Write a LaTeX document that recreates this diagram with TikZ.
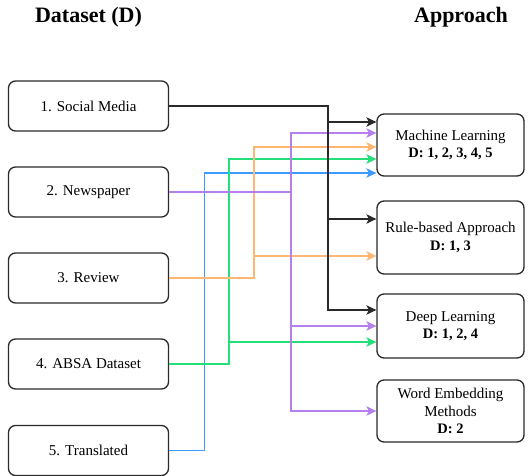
\documentclass[tikz,border=0pt]{standalone}
\usepackage{fontspec}
\setmainfont{Liberation Serif}
\usetikzlibrary{arrows.meta,calc}
\definecolor{cblk}{HTML}{2A2A2A}
\definecolor{cpur}{HTML}{B580EC}
\definecolor{cora}{HTML}{FFB672}
\definecolor{cgrn}{HTML}{22DF7A}
\definecolor{cblu}{HTML}{3D9BFF}
\tikzset{
  srcbox/.style={draw=cblk, line width=1.3pt, rounded corners=7pt, minimum width=160pt, minimum height=50pt, align=center, font=\fontsize{15}{17.6}\selectfont},
  appbox/.style={draw=cblk, line width=1.3pt, rounded corners=7pt, minimum width=147pt, align=center, font=\fontsize{15}{17.6}\selectfont, inner sep=0pt},
  ttl/.style={font=\bfseries\fontsize{22}{25}\selectfont},
  conn/.style={line width=1.3pt, -{Stealth[length=10pt,width=9.5pt,inset=2.5pt]}},
  ka/.style={conn, draw=cblk},
  pa/.style={conn, draw=cpur},
  oa/.style={conn, draw=cora},
  ga/.style={conn, draw=cgrn},
  ba/.style={conn, draw=cblu},
}
\newcommand{\bl}[1]{{\bfseries\fontsize{14.5}{17.6}\selectfont #1}}
\begin{document}
\begin{tikzpicture}[x=1pt,y=-1pt]
\useasboundingbox (0,0) rectangle (531,476);
\node[ttl] (t1) at (88.5,17.5) {Dataset (D)};
\node[ttl] (t2) at (461,17.5) {Approach};

\node[srcbox] (s1) at (88.5,106) {1. Social Media};
\node[srcbox] (s2) at (88.5,192) {2. Newspaper};
\node[srcbox] (s3) at (88.5,278) {3. Review};
\node[srcbox] (s4) at (88.5,364) {4. ABSA Dataset};
\node[srcbox] (s5) at (88.5,450.5) {5. Translated};

\node[appbox, minimum height=62pt] (ml) at (450.5,145) {Machine Learning\\\bl{D: 1, 2, 3, 4, 5}};
\node[appbox, minimum height=73pt] (rb) at (450.5,237.5) {Rule-based Approach\\\bl{D: 1, 3}};
\node[appbox, minimum height=64pt] (dl) at (450.5,326) {Deep Learning\\\bl{D: 1, 2, 4}};
\node[appbox, minimum height=62pt] (we) at (450.5,411) {Word Embedding\\Methods\\\bl{D: 2}};

% trunk x positions
\coordinate (tk) at (328,0);
\coordinate (tp) at (291,0);
\coordinate (to) at (254,0);
\coordinate (tg) at (229,0);
\coordinate (tb) at (204.3,0);

% arrow targets
\coordinate (mlK) at ([yshift=23pt]ml.west);
\coordinate (mlP) at ([yshift=12pt]ml.west);
\coordinate (mlO) at ([yshift=-2pt]ml.west);
\coordinate (mlG) at ([yshift=-14pt]ml.west);
\coordinate (mlB) at ([yshift=-28pt]ml.west);
\coordinate (rbK) at ([yshift=18.5pt]rb.west);
\coordinate (rbO) at ([yshift=-18.5pt]rb.west);
\coordinate (dlK) at ([yshift=16pt]dl.west);
\coordinate (dlP) at (dl.west);
\coordinate (dlG) at ([yshift=-16pt]dl.west);
\coordinate (weP) at (we.west);

% blue
\draw[ba] (s5.east) -| (tb |- mlB) -- (mlB);
% green
\draw[ga] (s4.east) -| (tg |- mlG) -- (mlG);
\draw[ga] (tg |- dlG) -- (dlG);
% orange
\draw[oa] (s3.east) -| (to |- mlO) -- (mlO);
\draw[oa] (to |- rbO) -- (rbO);
% purple
\draw[pa] (s2.east) -| (tp |- mlP) -- (mlP);
\draw[pa] (s2.east -| tp) |- (dlP);
\draw[pa] (s2.east -| tp) |- (weP);
% black
\draw[ka] (s1.east) -| (tk |- mlK) -- (mlK);
\draw[ka] (tk |- mlK) |- (rbK);
\draw[ka] (tk |- rbK) |- (dlK);
\end{tikzpicture}
\end{document}
